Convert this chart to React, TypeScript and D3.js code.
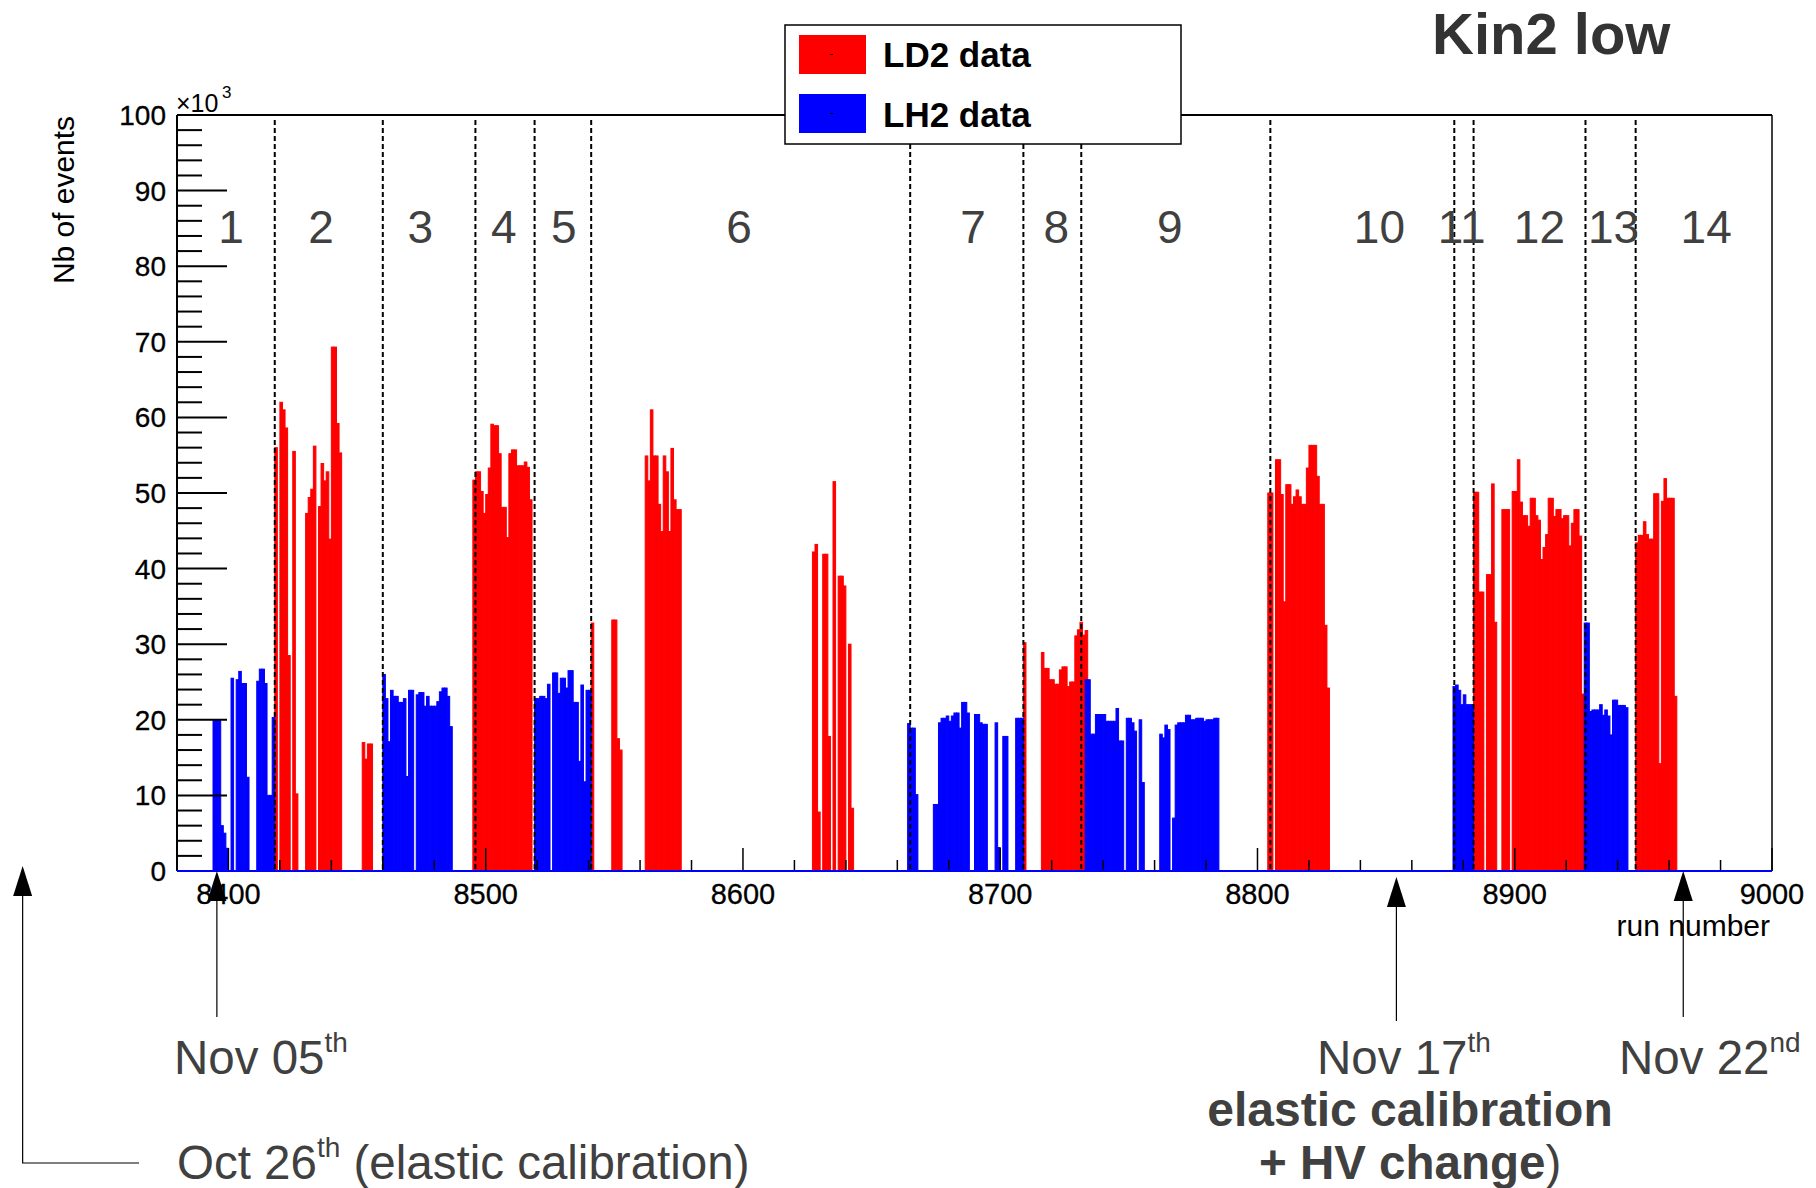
import React from 'react';
import * as d3 from 'd3';

// ---------- axis ranges & ticks ----------
const RUN_MIN = 8380;
const RUN_MAX = 9000;
const Y_MAX = 100; // x10^3 events
const xMajorTicks = [8400, 8500, 8600, 8700, 8800, 8900, 9000];
const yMajorTicks = [0, 10, 20, 30, 40, 50, 60, 70, 80, 90, 100];

// ---------- LD2 data (red), values in 10^3 events, one bin per run ----------
const ld2Starts = [8418, 8452, 8495, 8541, 8549, 8562, 8627, 8709, 8716, 8804, 8884, 8947];
const ld2Values = [
  [56, 0, 62, 61, 58.6, 28.5, 0, 55.5, 10.2, 0, 0, 0, 47.3, 49.4, 50.5, 56.2, 0, 48.2, 53.9, 51.6, 52.8, 43.9, 69.3, 69.3, 59.2, 55.3],
  [17, 14.8, 16.8, 16.8],
  [51.7, 52.8, 52.8, 50.2, 47.3, 49.8, 53.3, 59.1, 58.9, 58.9, 55.2, 48.1, 48.1, 44.1, 55.2, 55.7, 55.7, 53.6, 53.6, 53.6, 54.1, 53.4, 49.1],
  [32.8],
  [33.2, 33.2, 17.5, 16.0],
  [54.9, 51.6, 61.0, 54.9, 54.9, 48.5, 44.9, 54.9, 52.8, 44.9, 55.9, 49.1, 47.8, 47.8],
  [42.2, 43.2, 7.8, 0, 41.9, 41.9, 17.8, 0, 51.5, 0, 39.0, 39.0, 37.7, 0, 30.0, 8.3],
  [30.2],
  [28.9, 26.8, 26.8, 25.3, 25.3, 24.7, 24.7, 26.6, 27.0, 27.0, 24.4, 25.0, 25.0, 31.1, 31.9, 32.9, 31.2, 31.8],
  [50.0, 50.0, 0, 54.4, 54.4, 49.8, 35.6, 51.1, 51.1, 48.5, 49.5, 50.4, 49.5, 48.5, 48.5, 53.3, 56.3, 56.3, 56.3, 52.2, 48.5, 48.5, 32.5, 24.2],
  [50.1, 50.1, 36.9, 36.9, 0, 39.2, 39.2, 51.2, 32.9, 0, 0, 47.8, 47.8, 47.8, 0, 50.2, 50.2, 54.4, 48.8, 47.0, 47.0, 45.6, 49.3, 49.3, 47.0, 46.4, 41.2, 42.8, 44.5, 49.3, 49.3, 46.9, 47.8, 47.8, 46.6, 47.0, 47.0, 43.0, 46.0, 47.8, 47.8, 44.3, 23.4],
  [43.4, 44.4, 44.4, 46.2, 44.5, 43.9, 43.9, 49.9, 49.9, 14.2, 48.9, 51.9, 49.3, 49.3, 49.3, 23.1],
];

// ---------- LH2 data (blue) ----------
const lh2Starts = [8394, 8460, 8519, 8664, 8733, 8876, 8927];
const lh2Values = [
  [20, 20, 20, 6, 5, 3, 0, 25.5, 0, 25.3, 26.4, 24.8, 24.8, 12.4, 0, 0, 0, 25.1, 26.7, 26.7, 24.8, 10, 10, 20.3],
  [26.0, 22.8, 17.1, 23.9, 23.1, 23.1, 22.3, 22.3, 22.8, 12.5, 23.9, 23.9, 0, 23.3, 23.6, 23.6, 21.8, 23.1, 21.8, 21.8, 21.8, 22.4, 23.7, 24.2, 24.2, 23.1, 19.1],
  [22.8, 22.8, 23.1, 23.1, 22.8, 24.7, 0, 26.2, 26.2, 23.5, 25.5, 25.5, 24.2, 26.5, 26.5, 22.3, 22.3, 14.5, 24.6, 11.8, 23.9, 23.9],
  [19.5, 18.9, 18.9, 10.1, 0, 0, 0, 0, 0, 0, 8.8, 8.8, 19.6, 20.2, 20.2, 20.5, 19.8, 20.5, 20.9, 20.9, 18.9, 22.3, 22.3, 20.9, 0, 0, 20.7, 20.7, 19.6, 19.4, 19.4, 0, 0, 0, 19.6, 3.1, 0, 17.8, 17.8, 0, 0, 0, 20.2, 20.2, 20.2],
  [25.3, 25.3, 18.1, 18.1, 20.7, 20.7, 20.7, 20.7, 19.8, 19.8, 19.8, 19.8, 21.5, 17.2, 17.2, 0, 20.2, 20.2, 19.6, 18.5, 0, 20.0, 11.7, 0, 0, 0, 0, 0, 0, 18.1, 17.6, 19.3, 18.7, 0, 7.0, 19.3, 19.6, 19.6, 19.6, 20.6, 20.6, 20.0, 20.0, 20.2, 20.2, 20.2, 19.8, 20.0, 20.0, 20.0, 20.2, 20.2],
  [24.4, 24.6, 23.9, 22.0, 23.3, 22.0, 22.0, 22.0],
  [32.8, 32.8, 21.1, 21.3, 21.3, 21.3, 22.0, 20.6, 21.3, 20.5, 18.0, 22.6, 22.6, 21.9, 21.9, 21.9, 21.6],
];

// ---------- run-period sections ----------
const sectionEdges = [8418, 8460, 8496, 8519, 8541, 8665, 8709, 8731.5, 8805, 8876.5, 8884, 8927.5, 8947];
const sectionNames = ['1', '2', '3', '4', '5', '6', '7', '8', '9', '10', '11', '12', '13', '14'];
const sectionLabelRuns = [8401, 8436, 8474.6, 8507, 8530.4, 8598.5, 8689.4, 8721.8, 8765.9, 8847.4, 8879.4, 8909.6, 8938.4, 8974.4];
const SECTION_LABEL_Y = 85.2; // in 10^3 units

// ---------- date markers ----------
const markerRuns = [8395.5, 8854, 8965.5];
const markerDates = ['Nov 05', 'Nov 17', 'Nov 22'];
const markerSups = ['th', 'th', 'nd'];
const octRun = 8320; // off-axis marker (left of frame)

const FONT = 'Liberation Sans, Arial, Helvetica, sans-serif';
const RED = '#ff0000';
const BLUE = '#0000ff';
const GREY = '#404040';

function flatten(starts: number[], values: number[][]) {
  const out: { run: number; v: number }[] = [];
  starts.forEach((s, i) => values[i].forEach((v, j) => { if (v > 0) out.push({ run: s + j, v }); }));
  return out;
}

export default function App() {
  const L = 177, R = 1772, T = 115, B = 871;
  const x = d3.scaleLinear().domain([RUN_MIN, RUN_MAX]).range([L, R]);
  const y = d3.scaleLinear().domain([0, Y_MAX]).range([B, T]);

  const ld2 = flatten(ld2Starts, ld2Values);
  const lh2 = flatten(lh2Starts, lh2Values);

  const yMinor = d3.range(0, Y_MAX + 0.001, 2).filter((v) => Math.round(v) % 10 !== 0);
  const xMinor = d3.range(8400, RUN_MAX, 20).filter((v) => v % 100 !== 0);

  const bar = (d: { run: number; v: number }, color: string, key: string) => (
    <rect key={key} x={x(d.run)} y={y(d.v)} width={x(d.run + 1) - x(d.run)} height={y(0) - y(d.v)}
      fill={color} stroke={color} strokeWidth={1} />
  );

  const arrowHead = (cx: number, tip: number, key: string) => (
    <path key={key} d={`M${cx},${tip} L${cx - 9.5},${tip + 30} L${cx + 9.5},${tip + 30} Z`} fill="#000" />
  );

  return (
    <svg width={1816} height={1188} style={{ position: 'absolute', left: 0, top: 0, background: '#fff' }}
      fontFamily={FONT}>
      <rect x={0} y={0} width={1816} height={1188} fill="#fff" />

      {/* histograms */}
      <g>{ld2.map((d, i) => bar(d, RED, 'r' + i))}</g>
      <g>{lh2.map((d, i) => bar(d, BLUE, 'b' + i))}</g>

      {/* frame */}
      <line x1={L} x2={R} y1={T} y2={T} stroke="#000" strokeWidth={2} />
      <line x1={R} x2={R} y1={T} y2={B} stroke="#000" strokeWidth={1.5} />

      {/* y axis */}
      <line x1={L} x2={L} y1={T} y2={B} stroke="#000" strokeWidth={2} />
      {yMajorTicks.map((v) => (
        <line key={'ym' + v} x1={L} x2={L + 50} y1={y(v)} y2={y(v)} stroke="#000" strokeWidth={2} />
      ))}
      {yMinor.map((v) => (
        <line key={'yn' + v} x1={L} x2={L + 25} y1={y(v)} y2={y(v)} stroke="#000" strokeWidth={2} />
      ))}
      {yMajorTicks.map((v) => (
        <text key={'yl' + v} x={L - 11} y={y(v)} dy="0.36em" textAnchor="end" fontSize={28} fill="#000"
          stroke="#000" strokeWidth={0.3}>{v}</text>
      ))}
      <text x={176} y={112} fontSize={25} fill="#000">×10</text>
      <text x={222} y={98} fontSize={17} fill="#000">3</text>
      <text transform={`translate(74,116) rotate(-90)`} textAnchor="end" fontSize={30} fill="#000"
        textLength={168} lengthAdjust="spacingAndGlyphs">Nb of events</text>

      {/* x axis */}
      <line x1={L} x2={R} y1={B} y2={B} stroke="#000" strokeWidth={2} />
      {xMajorTicks.map((t) => (
        <line key={'xm' + t} x1={x(t)} x2={x(t)} y1={B} y2={B - 23} stroke="#000" strokeWidth={1.5} />
      ))}
      {xMinor.map((t) => (
        <line key={'xn' + t} x1={x(t)} x2={x(t)} y1={B} y2={B - 11} stroke="#000" strokeWidth={1.5} />
      ))}
      <line x1={L} x2={R} y1={B} y2={B} stroke={BLUE} strokeWidth={1.8} />
      {xMajorTicks.map((t) => (
        <text key={'xl' + t} x={x(t)} y={904} textAnchor="middle" fontSize={29} fill="#000"
          stroke="#000" strokeWidth={0.3}>{t}</text>
      ))}
      <text x={1770} y={936} textAnchor="end" fontSize={30} fill="#000">run number</text>

      {/* section separators */}
      {sectionEdges.map((r) => (
        <line key={'s' + r} x1={x(r)} x2={x(r)} y1={T + 5} y2={B} stroke="#000" strokeWidth={2} strokeDasharray="5 3" />
      ))}
      {sectionNames.map((n, i) => (
        <text key={'sn' + n} x={x(sectionLabelRuns[i])} y={y(SECTION_LABEL_Y)} dy="0.36em" textAnchor="middle"
          fontSize={46} fill={GREY}>{n}</text>
      ))}

      {/* legend */}
      <rect x={785} y={25} width={396} height={119} fill="#fff" stroke="#000" strokeWidth={1.5} />
      <rect x={799} y={35} width={67} height={39} fill={RED} />
      <rect x={799} y={94} width={67} height={39} fill={BLUE} />
      <line x1={830} x2={833} y1={54.5} y2={54.5} stroke="#000" strokeWidth={1} />
      <line x1={830} x2={833} y1={113.5} y2={113.5} stroke="#000" strokeWidth={1} />
      <text x={883} y={67} fontSize={35} fontWeight="bold" fill="#000">LD2 data</text>
      <text x={883} y={127} fontSize={35} fontWeight="bold" fill="#000">LH2 data</text>

      {/* title */}
      <text x={1432} y={54} fontSize={58} fontWeight="bold" fill="#333">Kin2 low</text>

      {/* date markers */}
      {markerRuns.map((r, i) => {
        const cx = x(r);
        const tip = i === 1 ? 877 : 871;
        return (
          <g key={'mk' + i}>
            {arrowHead(cx, tip, 'ah' + i)}
            <line x1={cx} x2={cx} y1={tip + 29} y2={i === 1 ? 1021 : 1017} stroke="#000" strokeWidth={1.2} />
          </g>
        );
      })}
      {arrowHead(x(octRun), 866, 'oct')}
      <polyline points={`${x(octRun)},895 ${x(octRun)},1163 139,1163`} fill="none" stroke="#000" strokeWidth={1.2} />

      <g fill={GREY} fontSize={47.5}>
        <text x={174} y={1074}>{markerDates[0]}<tspan fontSize={28} dy={-22}>{markerSups[0]}</tspan></text>
        <text x={1317} y={1074}>{markerDates[1]}<tspan fontSize={28} dy={-22}>{markerSups[1]}</tspan></text>
        <text x={1619} y={1074}>{markerDates[2]}<tspan fontSize={28} dy={-22}>{markerSups[2]}</tspan></text>
        <text x={1410} y={1126} textAnchor="middle" fontWeight="bold" fontSize={48}>elastic calibration</text>
        <text x={1259} y={1179}><tspan fontWeight="bold">+ HV change</tspan>)</text>
        <text x={177} y={1179}>Oct 26<tspan fontSize={28} dy={-22}>th</tspan><tspan dy={22}> (elastic calibration)</tspan></text>
      </g>
    </svg>
  );
}
